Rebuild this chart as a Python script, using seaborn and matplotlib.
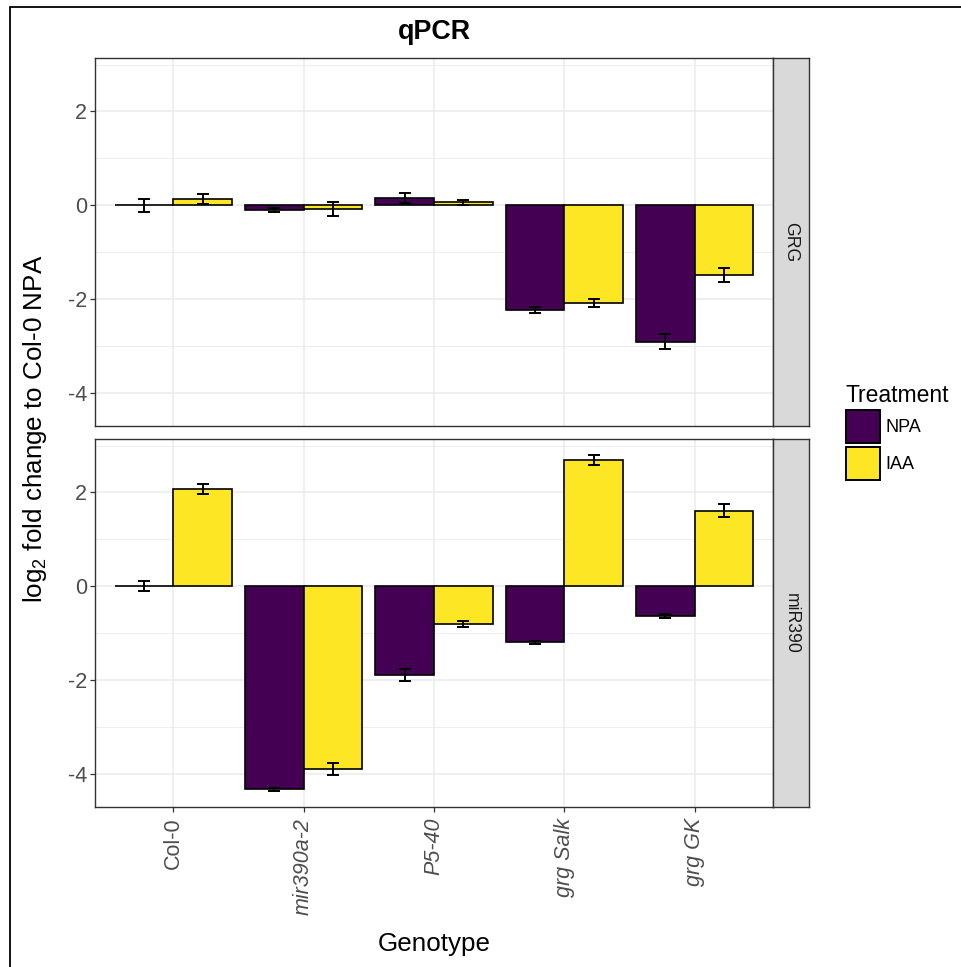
import numpy as np
import pandas as pd
import matplotlib
matplotlib.use("Agg")
import matplotlib.pyplot as plt
import seaborn as sns
from matplotlib.patches import Rectangle, Patch
from matplotlib.ticker import FixedLocator

# ---------------- data ----------------
genotypes = ["Col-0", "mir390a-2", "P5-40", "grg Salk", "grg GK"]
treatments = ["NPA", "IAA"]
genes = ["GRG", "miR390"]

grg_npa = [0.00, -0.10, 0.155, -2.23, -2.91]
grg_npa_se = [0.14, 0.05, 0.10, 0.065, 0.16]
grg_iaa = [0.13, -0.09, 0.06, -2.085, -1.49]
grg_iaa_se = [0.10, 0.15, 0.06, 0.09, 0.15]

mir_npa = [0.00, -4.33, -1.90, -1.20, -0.63]
mir_npa_se = [0.107, 0.035, 0.125, 0.04, 0.04]
mir_iaa = [2.066, -3.90, -0.81, 2.70, 1.61]
mir_iaa_se = [0.107, 0.135, 0.07, 0.107, 0.14]

colors = ["#440154", "#FDE725"]

rows = []
for gene, npa, npa_se, iaa, iaa_se in [("GRG", grg_npa, grg_npa_se, grg_iaa, grg_iaa_se),
                                       ("miR390", mir_npa, mir_npa_se, mir_iaa, mir_iaa_se)]:
    for g, v, s in zip(genotypes, npa, npa_se):
        rows.append(dict(Gene=gene, Genotype=g, Treatment="NPA", value=v, se=s))
    for g, v, s in zip(genotypes, iaa, iaa_se):
        rows.append(dict(Gene=gene, Genotype=g, Treatment="IAA", value=v, se=s))
df = pd.DataFrame(rows)

# ---------------- style ----------------
sns.set_style("white")
plt.rcParams["font.family"] = ["Liberation Sans", "DejaVu Sans"]
plt.rcParams["mathtext.default"] = "regular"
plt.rcParams["text.color"] = "black"
plt.rcParams["axes.labelcolor"] = "black"

W, H = 961, 967
fig = plt.figure(figsize=(W / 100, H / 100), dpi=100)

def fx(px):
    return px / W

def fy(py):
    return 1 - py / H

panel_l, panel_r = 95, 773
strip_r = 809
panels = [(58, 426), (439, 807)]
ylim = (-4.71, 3.14)

grid_c = "#EBEBEB"
border_c = "#333333"

axes = []
for i, gene in enumerate(genes):
    top, bot = panels[i]
    ax = fig.add_axes([fx(panel_l), fy(bot), fx(panel_r - panel_l), (bot - top) / H])
    sub = df[df.Gene == gene]
    sns.barplot(data=sub, x="Genotype", y="value", hue="Treatment",
                order=genotypes, hue_order=treatments, palette=colors,
                saturation=1, width=0.9, edgecolor="black", linewidth=1.2,
                errorbar=None, legend=False, ax=ax, zorder=2)
    # error bars centred on each bar
    for cont, tr in zip(ax.containers, treatments):
        d = sub[sub.Treatment == tr].set_index("Genotype").loc[genotypes]
        for bar, v, s in zip(cont, d["value"], d["se"]):
            cx = bar.get_x() + bar.get_width() / 2
            ax.errorbar(cx, v, yerr=s, fmt="none", ecolor="black",
                        elinewidth=1.4, capsize=4.3, capthick=1.4, zorder=3)
    ax.set_xlim(-0.6, 4.6)
    ax.set_ylim(*ylim)
    ax.yaxis.set_major_locator(FixedLocator([-4, -2, 0, 2]))
    ax.yaxis.set_minor_locator(FixedLocator([-3, -1, 1, 3]))
    ax.set_axisbelow(True)
    ax.grid(which="major", color=grid_c, lw=1.1, zorder=0)
    ax.grid(which="minor", axis="y", color=grid_c, lw=0.6, zorder=0)
    ax.set_xlabel("")
    ax.set_ylabel("")
    for sp in ax.spines.values():
        sp.set_color(border_c)
        sp.set_linewidth(1.0)
    ax.tick_params(axis="both", which="major", length=3.3, width=0.9,
                   color=border_c, labelcolor="#4D4D4D", labelsize=15.5, pad=2.5,
                   left=True, bottom=True)
    ax.tick_params(which="minor", length=0)
    ax.set_yticks([-4, -2, 0, 2])
    ax.set_yticklabels(["-4", "-2", "0", "2"])
    if i == 0:
        ax.tick_params(axis="x", bottom=False, labelbottom=False)
    else:
        ax.set_xticks(range(len(genotypes)))
        ax.set_xticklabels(genotypes, rotation=90, ha="center", va="top")
        ax.tick_params(axis="x", pad=4.5)
        for lab in ax.get_xticklabels():
            if lab.get_text() != "Col-0":
                lab.set_style("italic")
    axes.append(ax)

    # strip
    sax = fig.add_axes([fx(panel_r), fy(bot), fx(strip_r - panel_r), (bot - top) / H])
    sax.set_facecolor("#D9D9D9")
    sax.set_xticks([])
    sax.set_yticks([])
    for sp in sax.spines.values():
        sp.set_color(border_c)
        sp.set_linewidth(1.0)
    sax.text(0.5, 0.5, gene, rotation=-90, ha="center", va="center",
             fontsize=12.7, color="#1A1A1A", transform=sax.transAxes)

# titles
fig.text(fx((panel_l + panel_r) / 2), fy(39), "qPCR", ha="center", va="baseline",
         fontsize=19.4, fontweight="bold", color="black")
fig.text(fx((panel_l + panel_r) / 2), fy(951.5), "Genotype", ha="center", va="baseline",
         fontsize=18.7, color="black")
fig.text(fx(35), fy(428.5), "log$_2$ fold change to Col-0 NPA", ha="center", va="center",
         rotation=90, fontsize=18.7, color="black")

# legend
handles = [Patch(facecolor=c, edgecolor="black", linewidth=1.4) for c in colors]
leg = fig.legend(handles, treatments, title="Treatment", loc="upper left",
                 bbox_to_anchor=(fx(845.7), fy(384)), frameon=False,
                 fontsize=13, title_fontsize=16.5, handlelength=1.88,
                 handleheight=2.45, labelspacing=0.18, handletextpad=0.33,
                 borderpad=0, borderaxespad=0, alignment="left")
for t in leg.get_texts():
    t.set_color("black")
leg.get_title().set_color("black")

# outer border (figure frame)
fig.add_artist(Rectangle((fx(10), -0.05), 1.2, (H - 7) / H + 0.05,
                         transform=fig.transFigure, fill=False,
                         edgecolor="black", linewidth=1.3))

fig.savefig("out.png", dpi=100)
